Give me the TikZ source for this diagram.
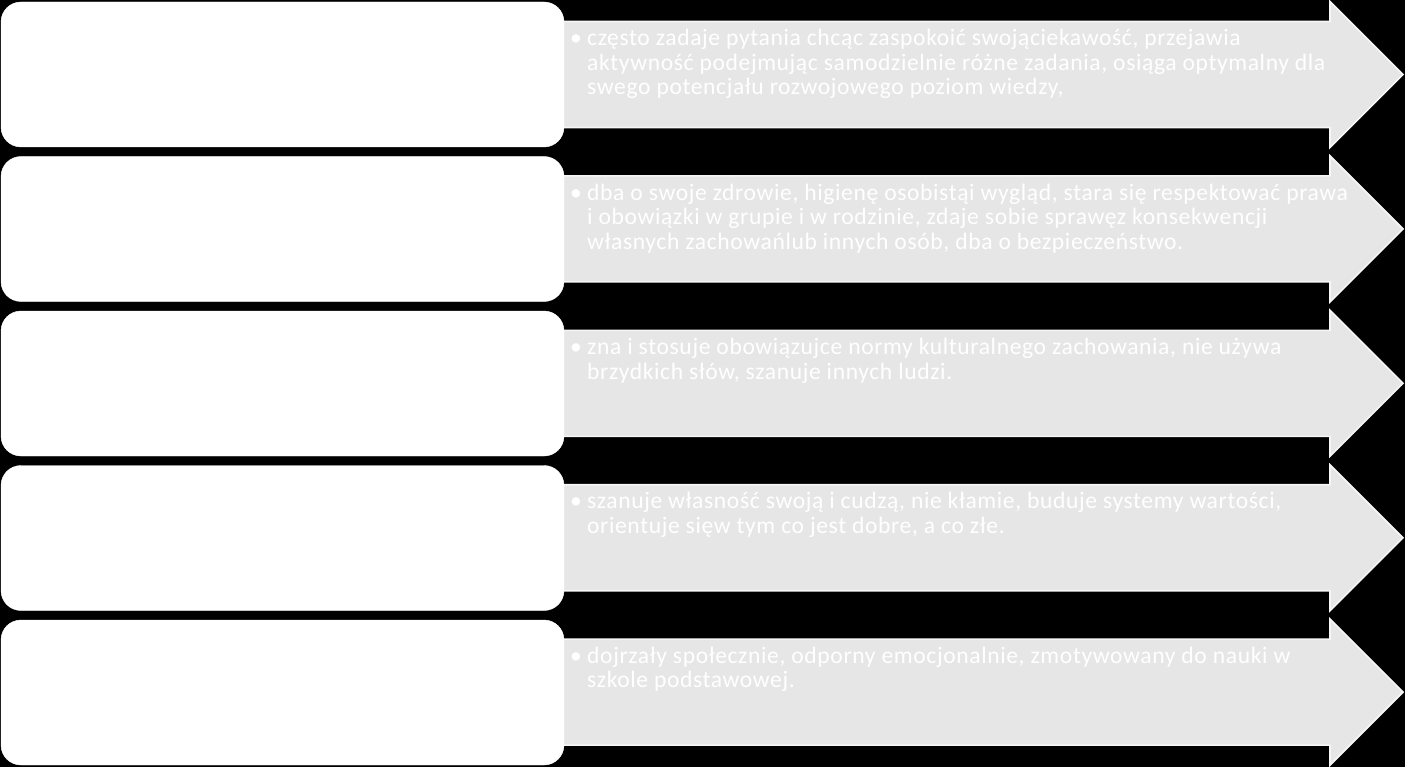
\documentclass[tikz,border=0pt]{standalone}
\usepackage{fontspec}
\setmainfont{Carlito}
\newfontfamily\descfont[LetterSpace=2.6]{Carlito}
\definecolor{arrowfill}{RGB}{230,230,230}
\definecolor{arrowline}{RGB}{246,246,246}
\tikzset{
  stagebox/.style={fill=white, draw=white, rounded corners=20pt},
  arrowshape/.style={fill=arrowfill, draw=arrowline, line width=1.6pt, line join=miter},
  desc/.style={anchor=north west, inner sep=0pt, text=white, font=\descfont\fontsize{23.6}{24.6}\selectfont}
}
\newcommand{\bl}{\makebox[17pt][l]{•}}
\begin{document}
\begin{tikzpicture}[x=1pt,y=-1pt]
\fill[black] (0,0) rectangle (1405,767);
\useasboundingbox (0,0) rectangle (1405,767);
\foreach \i in {0,...,4}{
  \pgfmathsetmacro{\c}{74.5+154.4*\i}
  \draw[arrowshape] (540,\c-53) -- (1330,\c-53) -- (1330,\c-73) -- (1403,\c) -- (1330,\c+73) -- (1330,\c+53) -- (540,\c+53) -- cycle;
}
\foreach \i in {0,...,4}{
  \pgfmathsetmacro{\t}{2+154.5*\i}
  \path[stagebox] (1,\t) rectangle (564,\t+145);
}
\node[desc] (t1) at (570,28.2) {\begin{tabular}{@{}l@{}}\bl często zadaje pytania chcąc zaspokoić swojąciekawość, przejawia\\ \hspace*{17pt}aktywność podejmując samodzielnie różne zadania, osiąga optymalny dla\\ \hspace*{17pt}swego potencjału rozwojowego poziom wiedzy,\end{tabular}};
\node[desc] (t2) at (570,182.6) {\begin{tabular}{@{}l@{}}\bl dba o swoje zdrowie, higienę osobistąi wygląd, stara się respektować prawa\\ \hspace*{17pt}i obowiązki w grupie i w rodzinie, zdaje sobie sprawęz konsekwencji\\ \hspace*{17pt}własnych zachowańlub innych osób, dba o bezpieczeństwo.\end{tabular}};
\node[desc] (t3) at (570,337.0) {\begin{tabular}{@{}l@{}}\bl zna i stosuje obowiązujce normy kulturalnego zachowania, nie używa\\ \hspace*{17pt}brzydkich słów, szanuje innych ludzi.\end{tabular}};
\node[desc] (t4) at (570,491.4) {\begin{tabular}{@{}l@{}}\bl szanuje własność swoją i cudzą, nie kłamie, buduje systemy wartości,\\ \hspace*{17pt}orientuje sięw tym co jest dobre, a co złe.\end{tabular}};
\node[desc] (t5) at (570,645.8) {\begin{tabular}{@{}l@{}}\bl dojrzały społecznie, odporny emocjonalnie, zmotywowany do nauki w\\ \hspace*{17pt}szkole podstawowej.\end{tabular}};
\end{tikzpicture}
\end{document}
